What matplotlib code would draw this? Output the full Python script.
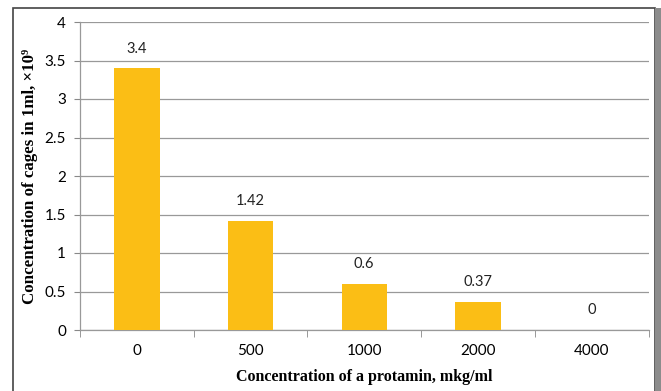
import matplotlib.pyplot as plt
from matplotlib.patches import Rectangle

# protamin dose (mkg/ml) and cell counts per ml (x10^9)
doses = ["0", "500", "1000", "2000", "4000"]
cells = [3.4, 1.42, 0.6, 0.37, 0]
value_labels = ["3.4", "1.42", "0.6", "0.37", "0"]
yticks = [0, 0.5, 1, 1.5, 2, 2.5, 3, 3.5, 4]
ytick_labels = ["0", "0.5", "1", "1.5", "2", "2.5", "3", "3.5", "4"]

W, H = 661, 391
fig = plt.figure(figsize=(W / 100, H / 100), dpi=100)
ax = fig.add_axes([80 / W, 1 - 330 / H, (648.5 - 80) / W, (330 - 22) / H])

x = list(range(len(doses)))
ax.bar(x, cells, width=0.4, color="#FBBE15", zorder=3)
for xi, v, lab in zip(x, cells, value_labels):
    ax.annotate(lab, (xi, v), xytext=(0, 9), textcoords="offset points",
                ha="center", va="bottom", fontsize=10.5, family="Lato", color="#222222")

ax.set_xlim(-0.5, len(doses) - 0.5)
ax.set_ylim(0, 4)
ax.set_yticks(yticks)
ax.set_yticklabels(ytick_labels, family="Lato", fontsize=11)
ax.set_xticks(x)
ax.set_xticklabels(doses, family="Lato", fontsize=11)
ax.set_xticks([i - 0.5 for i in range(len(doses) + 1)], minor=True)
ax.tick_params(axis="x", which="major", length=0, pad=10)
ax.tick_params(axis="x", which="minor", length=5, color="#888888")
ax.tick_params(axis="y", length=4, color="#888888", pad=6)

ax.grid(axis="y", color="#999999", linewidth=0.9, zorder=0)
for s in ["top", "right"]:
    ax.spines[s].set_visible(False)
for s in ["left", "bottom"]:
    ax.spines[s].set_color("#999999")
    ax.spines[s].set_linewidth(0.9)

ax.set_xlabel("Concentration of a protamin, mkg/ml", family=["Liberation Serif", "DejaVu Serif"],
              fontweight="bold", fontsize=11.5, labelpad=8)
ax.set_ylabel("Concentration of cages in 1ml, ×10⁹", family=["Liberation Serif", "DejaVu Serif"],
              fontweight="bold", fontsize=12.2, labelpad=5)

# outer chart border
fig.patches.append(Rectangle((13 / W, -0.1), (655 - 13) / W, 1 - 8 / H + 0.1,
                             transform=fig.transFigure, fill=False,
                             edgecolor="#444444", linewidth=1.2))
fig.patches.append(Rectangle((655 / W, 0), 6 / W, 1 - 8 / H,
                             transform=fig.transFigure, facecolor="#8c8c8c",
                             edgecolor="none"))

fig.savefig("out.png", dpi=100)
